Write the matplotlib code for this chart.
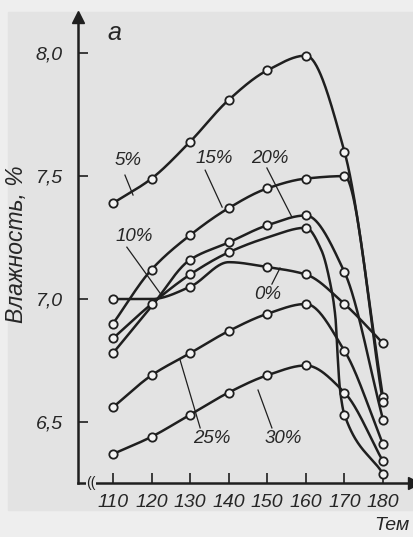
import numpy as np
import matplotlib
matplotlib.use("Agg")
import matplotlib.pyplot as plt
from matplotlib.patches import Rectangle

# temperature, °C
temps = [110, 120, 130, 140, 150, 160, 170, 180]

# moisture of the product, % (one curve per initial moisture)
hum_0 = [7.00, 7.00, 7.05, 7.15, 7.13, 7.10, 6.98, 6.82]
hum_5 = [7.39, 7.49, 7.64, 7.81, 7.93, 7.99, 7.60, 6.60]
hum_15 = [6.90, 7.12, 7.26, 7.37, 7.45, 7.49, 7.50, 6.58]
hum_20 = [6.78, 6.97, 7.16, 7.23, 7.30, 7.34, 7.11, 6.51]
hum_25 = [6.56, 6.69, 6.78, 6.87, 6.94, 6.98, 6.79, 6.41]
hum_30 = [6.37, 6.44, 6.53, 6.62, 6.69, 6.73, 6.62, 6.34]
# the 10% curve falls almost vertically near 168 °C, so it gets a few extra read points
temps_10 = [110, 120, 130, 140, 150, 160, 164, 166.5, 167.7, 168.2, 168.8, 170, 180]
hum_10 = [6.84, 6.98, 7.10, 7.19, 7.25, 7.29, 7.20, 7.05, 6.92, 6.78, 6.64, 6.53, 6.29]

# which read points carry a circle in the original drawing
mark_0 = [1, 0, 1, 0, 1, 1, 1, 1]
mark_10 = [1, 1, 1, 1, 0, 1, 0, 0, 0, 0, 0, 1, 1]
mark_20 = [1, 0, 1, 1, 1, 1, 1, 1]
mark_all = [1, 1, 1, 1, 1, 1, 1, 1]

y_ticks = [6.5, 7.0, 7.5, 8.0]
y_tick_labels = ["6,5", "7,0", "7,5", "8,0"]


def pchip(x, y, n=400):
    # monotone cubic through the read points, only to draw the curves smoothly
    x = np.asarray(x, float)
    y = np.asarray(y, float)
    h = np.diff(x)
    d = np.diff(y) / h
    m = np.zeros_like(y)
    for k in range(1, len(x) - 1):
        if d[k - 1] * d[k] > 0:
            w1 = 2 * h[k] + h[k - 1]
            w2 = h[k] + 2 * h[k - 1]
            m[k] = (w1 + w2) / (w1 / d[k - 1] + w2 / d[k])
    m[0] = d[0]
    m[-1] = d[-1]
    xs = np.linspace(x[0], x[-1], n)
    idx = np.clip(np.searchsorted(x, xs) - 1, 0, len(x) - 2)
    t = (xs - x[idx]) / h[idx]
    h00 = 2 * t**3 - 3 * t**2 + 1
    h10 = t**3 - 2 * t**2 + t
    h01 = -2 * t**3 + 3 * t**2
    h11 = t**3 - t**2
    ys = h00 * y[idx] + h10 * h[idx] * m[idx] + h01 * y[idx + 1] + h11 * h[idx] * m[idx + 1]
    return xs, ys


ink = "#1f1f1f"
txt = "#262626"
font = ["Liberation Sans", "DejaVu Sans"]

fig = plt.figure(figsize=(4.14, 5.37), dpi=100)
fig.patch.set_facecolor("#eeeeee")
fig.patches.append(Rectangle((8 / 414, (537 - 510) / 537), 1, (510 - 12) / 537,
                             transform=fig.transFigure, color="#e3e3e3", zorder=-10))

ax = fig.add_axes([78 / 414, (537 - 483) / 537, (414 - 78) / 414, (483 - 17) / 537])
ax.set_facecolor("none")
ax.set_xlim(100.93, 188.04)
ax.set_ylim(6.252, 8.147)

curves = [
    (temps, hum_0, mark_0),
    (temps, hum_5, mark_all),
    (temps_10, hum_10, mark_10),
    (temps, hum_15, mark_all),
    (temps, hum_20, mark_20),
    (temps, hum_25, mark_all),
    (temps, hum_30, mark_all),
]
for xs, ys, mk in curves:
    sx, sy = pchip(xs, ys)
    ax.plot(sx, sy, color=ink, lw=1.8, solid_capstyle="round", zorder=2)
    px = [a for a, keep in zip(xs, mk) if keep]
    py = [b for b, keep in zip(ys, mk) if keep]
    ax.plot(px, py, "o", ms=6, mfc="#f4f4f4", mec=ink, mew=1.3, zorder=3)

# curve labels with leader lines
labels = [
    ("5%", (114.0, 7.565), (113.1, 7.504), (115.2, 7.423)),
    ("15%", (136.2, 7.573), (133.9, 7.524), (138.3, 7.374)),
    ("20%", (150.7, 7.573), (149.9, 7.533), (156.4, 7.333)),
    ("10%", (115.4, 7.256), (113.6, 7.211), (122.2, 7.024)),
    ("0%", (150.2, 7.020), (151.2, 7.061), (153.3, 7.126)),
    ("25%", (135.7, 6.431), (132.6, 6.476), (127.4, 6.752)),
    ("30%", (154.1, 6.431), (151.2, 6.476), (147.6, 6.630)),
]
for s, pos, p0, p1 in labels:
    ax.text(pos[0], pos[1], s, ha="center", va="center", fontsize=13.5,
            style="italic", family=font, color=txt)
    ax.plot([p0[0], p1[0]], [p0[1], p1[1]], color=ink, lw=0.9)

# axes drawn like the book figure
for side in ["top", "right"]:
    ax.spines[side].set_visible(False)
for side in ["left", "bottom"]:
    ax.spines[side].set_color(ink)
    ax.spines[side].set_linewidth(1.8)
ax.set_xticks(temps)
ax.set_xticklabels([str(t) for t in temps])
ax.set_yticks(y_ticks)
ax.set_yticklabels(y_tick_labels)
ax.tick_params(axis="x", direction="in", length=7, width=1.2, color=ink, pad=8)
ax.tick_params(axis="y", direction="in", length=7, width=1.2, color=ink, pad=11)
for lab in ax.get_xticklabels() + ax.get_yticklabels():
    lab.set_family(font)
    lab.set_style("italic")
    lab.set_fontsize(14)
    lab.set_color(txt)

# arrow heads
ax.plot(0, 1, marker="^", ms=9, color=ink, transform=ax.transAxes, clip_on=False)
ax.plot(1, 0, marker=">", ms=9, color=ink, transform=ax.transAxes, clip_on=False)
# axis break on the x axis
ax.text(104.3, 6.252, "((", ha="center", va="center", fontsize=10, color=ink,
        family=font, bbox=dict(boxstyle="square,pad=0.05", fc="#e3e3e3", ec="none"))

ax.text(110.3, 8.08, "а", fontsize=18, style="italic", family=font, color=txt,
        ha="center", va="center")
fig.text(17 / 414, 1 - 244 / 537, "Влажность, %", rotation=90, fontsize=16.5,
         style="italic", family=font, color=txt, ha="center", va="center")
fig.text(410 / 414, 1 - 525 / 537, "Тем", fontsize=14, style="italic",
         family=font, color=txt, ha="right", va="center")

fig.savefig("out.png", dpi=100, facecolor=fig.get_facecolor())
